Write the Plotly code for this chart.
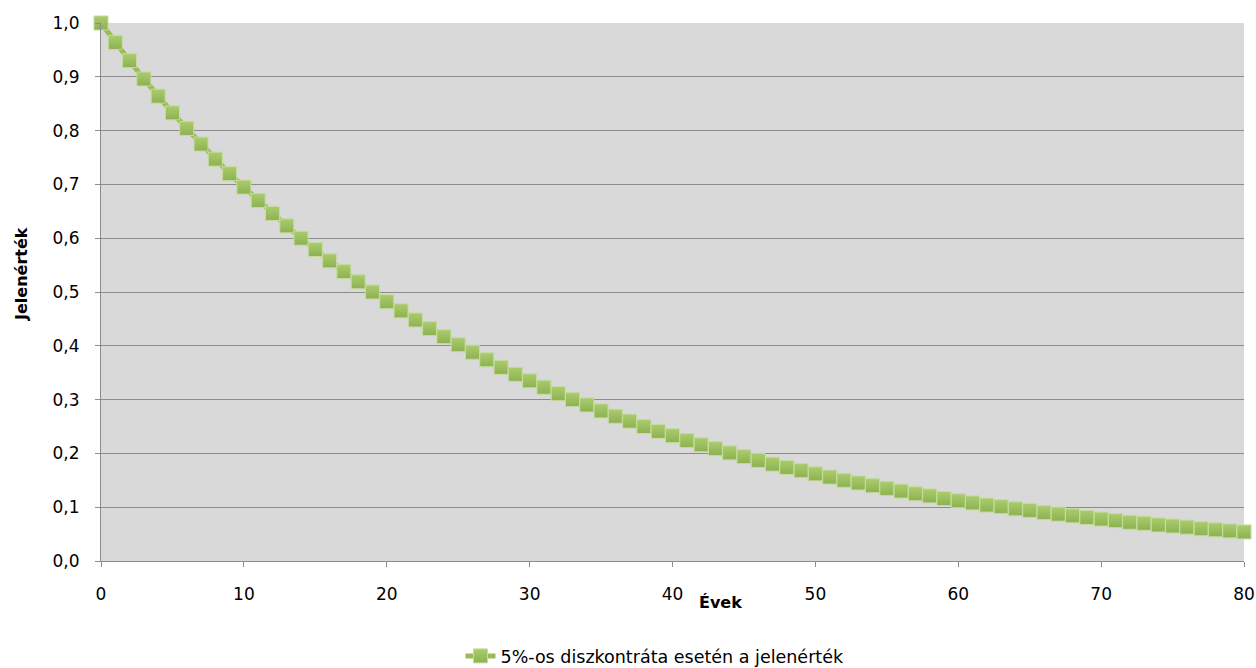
import plotly.graph_objects as go

years = list(range(0, 81))
values = [
    1.000, 0.964, 0.930, 0.896, 0.864, 0.833, 0.804, 0.775, 0.747, 0.720,
    0.695, 0.670, 0.646, 0.623, 0.600, 0.579, 0.558, 0.538, 0.519, 0.500,
    0.482, 0.465, 0.448, 0.432, 0.417, 0.402, 0.388, 0.374, 0.360, 0.347,
    0.335, 0.323, 0.311, 0.300, 0.290, 0.279, 0.269, 0.260, 0.250, 0.241,
    0.233, 0.224, 0.216, 0.209, 0.201, 0.194, 0.187, 0.180, 0.174, 0.168,
    0.162, 0.156, 0.150, 0.145, 0.140, 0.135, 0.130, 0.125, 0.121, 0.116,
    0.112, 0.108, 0.104, 0.101, 0.097, 0.094, 0.090, 0.087, 0.084, 0.081,
    0.078, 0.075, 0.072, 0.070, 0.067, 0.065, 0.063, 0.060, 0.058, 0.056,
    0.054,
]
series_name = "5%-os diszkontráta esetén a jelenérték"
x_title = "Évek"
y_title = "Jelenérték"
x_ticks = [0, 10, 20, 30, 40, 50, 60, 70, 80]
y_ticks = [0.0, 0.1, 0.2, 0.3, 0.4, 0.5, 0.6, 0.7, 0.8, 0.9, 1.0]

FONT = "DejaVu Sans"
fig = go.Figure()
fig.add_trace(go.Scatter(
    x=years, y=values, name=series_name, mode="lines+markers",
    line=dict(color="#9bbb59", width=5),
    marker=dict(symbol="square", size=14, color="#aacc6e",
                gradient=dict(type="vertical", color="#8db150"),
                line=dict(color="#c4dc9e", width=1)),
    cliponaxis=False,
))

fig.update_layout(
    width=1256, height=668,
    margin=dict(l=101, r=12, t=23, b=107, autoexpand=False),
    paper_bgcolor="white", plot_bgcolor="#d9d9d9",
    separators=",.",
    font=dict(family=FONT, size=17, color="#000000"),
    showlegend=True,
    legend=dict(orientation="h", x=(655 - 101) / 1143, xanchor="center",
                y=-(656 - 561) / 538, yanchor="middle",
                font=dict(family=FONT, size=17.5),
                bgcolor="rgba(0,0,0,0)", itemwidth=30),
    xaxis=dict(range=[0, 80], tickvals=x_ticks, showgrid=False, zeroline=False,
               showline=True, linecolor="#8c8c8c", linewidth=1,
               ticks="outside", ticklen=5, tickcolor="#8c8c8c",
               ticklabelstandoff=13,
               tickfont=dict(family=FONT, size=17)),
    yaxis=dict(range=[0, 1], tickvals=y_ticks, tickformat=".1f",
               showgrid=True, gridcolor="#8c8c8c", gridwidth=1, zeroline=False,
               showline=True, linecolor="#8c8c8c", linewidth=1,
               ticks="outside", ticklen=5, tickcolor="#8c8c8c",
               ticklabelstandoff=12,
               tickfont=dict(family=FONT, size=17)),
    annotations=[
        dict(text="<b>" + x_title + "</b>", xref="paper", yref="paper",
             x=(720 - 101) / 1143, y=-(602 - 561) / 538, showarrow=False,
             xanchor="center", yanchor="middle", font=dict(family=FONT, size=16)),
        dict(text="<b>" + y_title + "</b>", xref="paper", yref="paper",
             x=-(101 - 21) / 1143, y=(561 - 274) / 538, showarrow=False, textangle=-90,
             xanchor="center", yanchor="middle", font=dict(family=FONT, size=16)),
    ],
)

fig.write_html("out.html")
